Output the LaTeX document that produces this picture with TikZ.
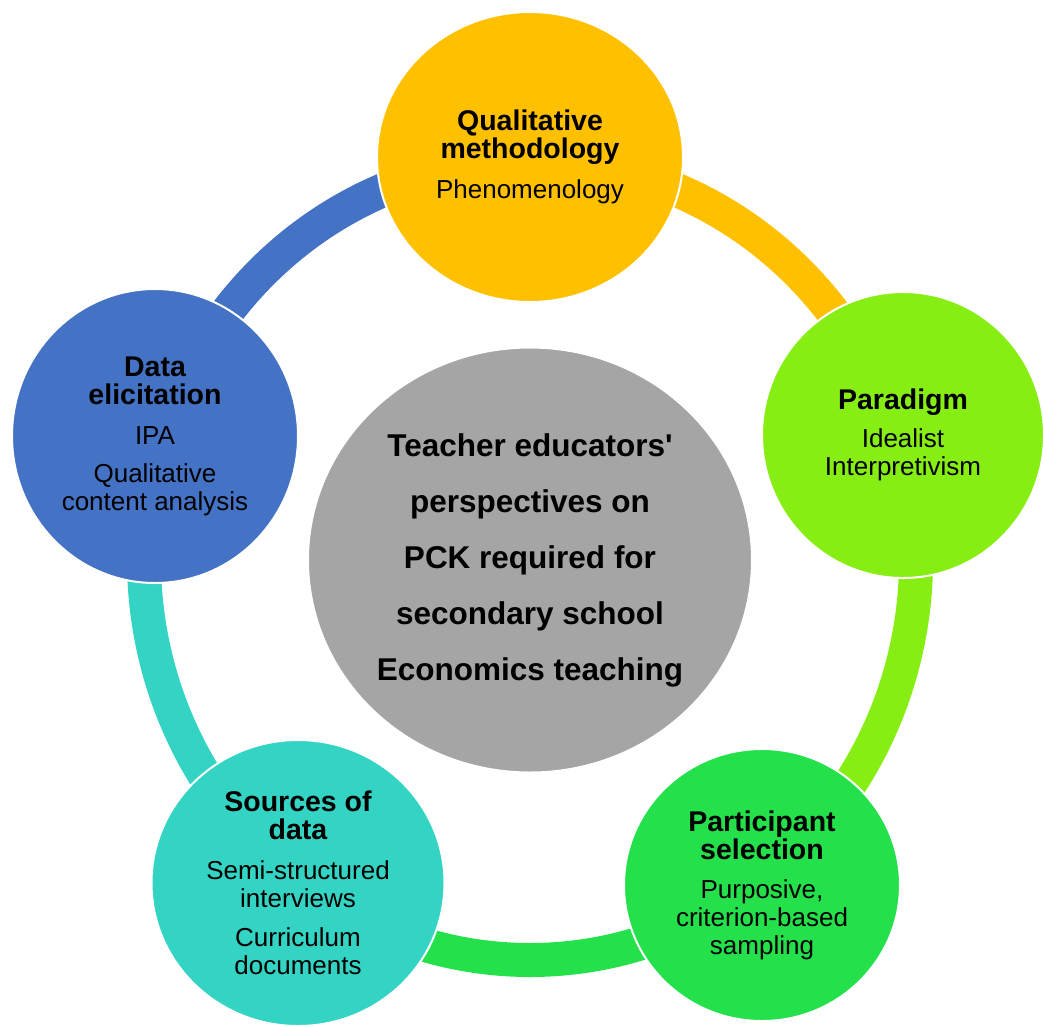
\documentclass[tikz,border=0pt]{standalone}
\usepackage{fontspec}
\setmainfont{Liberation Sans}[Ligatures=TeXOff]
\usetikzlibrary{shapes.geometric}

\definecolor{gold}{HTML}{FFC000}
\definecolor{lime}{HTML}{87EE14}
\definecolor{leaf}{HTML}{23E04B}
\definecolor{teal}{HTML}{34D4C4}
\definecolor{steel}{HTML}{4472C4}
\definecolor{stone}{HTML}{A5A5A5}

\newcommand\hd[1]{{\fontsize{28.5}{30}\selectfont\bfseries #1}}

\begin{document}
\begin{tikzpicture}[x=1pt, y=-1pt,
  stage/.style={ellipse, fill=#1, draw=white, line width=2pt, inner sep=0pt,
    align=center, font=\fontsize{26}{28}\selectfont},
  ring/.style={draw=#1, line width=34pt}]
\useasboundingbox (0,0) rectangle (1043,1026);

\node (core) [stage=stone, minimum width=444, minimum height=425,
  font=\fontsize{31.5}{56}\selectfont\bfseries] at (530,560)
  {Teacher educators'\\perspectives on\\PCK required for\\secondary school\\Economics teaching};

\draw[ring=gold] (core.center) ++(-90:386 and 400) arc[start angle=-90, end angle=-18, x radius=386, y radius=400];
\draw[ring=lime] (core.center) ++(-18:386 and 400) arc[start angle=-18, end angle=54, x radius=386, y radius=400];
\draw[ring=leaf] (core.center) ++(54:386 and 400) arc[start angle=54, end angle=126, x radius=386, y radius=400];
\draw[ring=teal] (core.center) ++(126:386 and 400) arc[start angle=126, end angle=198, x radius=386, y radius=400];
\draw[ring=steel] (core.center) ++(198:386 and 400) arc[start angle=198, end angle=270, x radius=386, y radius=400];

\node (method) [stage=gold, minimum width=306, minimum height=290] at (530,157)
  {\hd{Qualitative}\\\hd{methodology}\\[12pt]Phenomenology};
\node (paradigm) [stage=lime, minimum width=282, minimum height=286] at (903,435)
  {\hd{Paradigm}\\[10pt]Idealist\\Interpretivism};
\node (sample) [stage=leaf, minimum width=276, minimum height=272] at (762,885)
  {\hd{Participant}\\\hd{selection}\\[11pt]Purposive,\\criterion-based\\sampling};
\node (sources) [stage=teal, minimum width=293, minimum height=286] at (298,883)
  {\hd{Sources of}\\\hd{data}\\[12pt]Semi-structured\\interviews\\[11pt]Curriculum\\documents};
\node (elicit) [stage=steel, minimum width=286, minimum height=294] at (155,436)
  {\hd{Data}\\\hd{elicitation}\\[12pt]IPA\\[10pt]Qualitative\\content analysis};
\end{tikzpicture}
\end{document}
